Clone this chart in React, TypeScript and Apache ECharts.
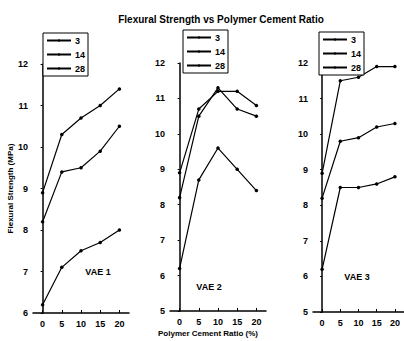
import React, { useEffect, useRef } from "react";
import * as echarts from "echarts";

const xValues = [0, 5, 10, 15, 20];
const seriesNames = ["3", "14", "28"];

const vae1_3 = [6.2, 7.1, 7.5, 7.7, 8.0];
const vae1_14 = [8.2, 9.4, 9.5, 9.9, 10.5];
const vae1_28 = [8.9, 10.3, 10.7, 11.0, 11.4];

const vae2_3 = [6.2, 8.7, 9.6, 9.0, 8.4];
const vae2_14 = [8.2, 10.5, 11.3, 10.7, 10.5];
const vae2_28 = [8.9, 10.7, 11.2, 11.2, 10.8];

const vae3_3 = [6.2, 8.5, 8.5, 8.6, 8.8];
const vae3_14 = [8.2, 9.8, 9.9, 10.2, 10.3];
const vae3_28 = [8.9, 11.5, 11.6, 11.9, 11.9];

const panels = [
  { label: "VAE 1", data: [vae1_3, vae1_14, vae1_28], yMin: 6, yMax: 12 },
  { label: "VAE 2", data: [vae2_3, vae2_14, vae2_28], yMin: 5, yMax: 12 },
  { label: "VAE 3", data: [vae3_3, vae3_14, vae3_28], yMin: 5, yMax: 12 },
];

const FONT = "'Liberation Sans', Arial, sans-serif";

export default function App() {
  const ref = useRef<HTMLDivElement>(null);
  useEffect(() => {
    if (!ref.current) return;
    const chart = echarts.init(ref.current, undefined, { renderer: "svg" });

    const grids = [
      { left: 33, top: 64, width: 96, height: 249 },
      { left: 170, top: 63, width: 96, height: 248 },
      { left: 313, top: 63, width: 93, height: 249 },
    ];
    const legendPos = [
      { left: 43, top: 33 },
      { left: 183, top: 30 },
      { left: 319, top: 32 },
    ];
    const labelPos = [
      { x: 98, y: 272 },
      { x: 209, y: 287 },
      { x: 357, y: 277 },
    ];

    const xAxes = grids.map((_, i) => ({
      type: "value",
      gridIndex: i,
      min: -2.5,
      max: 22.5,
      splitLine: { show: false },
      axisLine: { lineStyle: { color: "#000", width: 1.5 } },
      axisTick: {
        inside: true,
        length: 3,
        customValues: xValues,
        lineStyle: { color: "#000" },
      },
      axisLabel: {
        customValues: xValues,
        color: "#000",
        fontSize: 9,
        fontWeight: "bold",
        fontFamily: FONT,
        margin: 6,
      },
    }));

    const yAxes = panels.map((p, i) => ({
      type: "value",
      gridIndex: i,
      min: p.yMin,
      max: p.yMax,
      interval: 1,
      splitLine: { show: false },
      axisLine: { show: true, lineStyle: { color: "#000", width: 1.5 } },
      axisTick: { show: true, length: 2, lineStyle: { color: "#000" } },
      axisLabel: {
        color: "#000",
        fontSize: 9,
        fontWeight: "bold",
        fontFamily: FONT,
        margin: 5,
      },
      ...(i === 0
        ? {
            name: "Flexural Strength (MPa)",
            nameLocation: "middle",
            nameGap: 17,
            nameTextStyle: {
              color: "#000",
              fontSize: 8,
              fontWeight: "bold",
              fontFamily: FONT,
            },
          }
        : {}),
    }));

    const series: any[] = [];
    panels.forEach((p, i) => {
      p.data.forEach((vals, k) => {
        series.push({
          type: "line",
          name: seriesNames[k],
          xAxisIndex: i,
          yAxisIndex: i,
          data: xValues.map((x, j) => [x, vals[j]]),
          symbol: "circle",
          symbolSize: 3.5,
          showSymbol: true,
          lineStyle: { color: "#000", width: 1.2 },
          itemStyle: { color: "#000" },
          emphasis: { disabled: true },
        });
      });
    });

    const legends = legendPos.map((pos) => ({
      ...pos,
      orient: "vertical",
      data: seriesNames,
      itemWidth: 24,
      itemHeight: 3,
      itemGap: 5,
      padding: [3, 3, 3, 3],
      borderColor: "#000",
      borderWidth: 1,
      backgroundColor: "#fff",
      selectedMode: false,
      textStyle: {
        color: "#000",
        fontSize: 9,
        fontWeight: "bold",
        fontFamily: FONT,
        padding: [0, 0, 0, -1],
      },
    }));

    chart.setOption({
      animation: false,
      title: {
        text: "Flexural Strength vs Polymer Cement Ratio",
        left: 216,
        top: 9,
        textAlign: "center",
        textStyle: {
          color: "#000",
          fontSize: 10,
          fontWeight: "bold",
          fontFamily: FONT,
        },
      },
      grid: grids,
      xAxis: xAxes,
      yAxis: yAxes,
      legend: legends,
      series,
      graphic: [
        ...panels.map((p, i) => ({
          type: "text",
          x: labelPos[i].x,
          y: labelPos[i].y,
          style: {
            text: p.label,
            fill: "#000",
            font: `bold 9px ${FONT}`,
            textAlign: "center",
            textVerticalAlign: "middle",
          },
        })),
        {
          type: "text",
          x: 208,
          y: 333,
          style: {
            text: "Polymer Cement Ratio (%)",
            fill: "#000",
            font: `bold 8px ${FONT}`,
            textAlign: "center",
            textVerticalAlign: "middle",
          },
        },
      ],
    });

    return () => chart.dispose();
  }, []);

  return (
    <div
      ref={ref}
      style={{ position: "fixed", left: 0, top: 0, width: 404, height: 341, background: "#fff" }}
    />
  );
}
